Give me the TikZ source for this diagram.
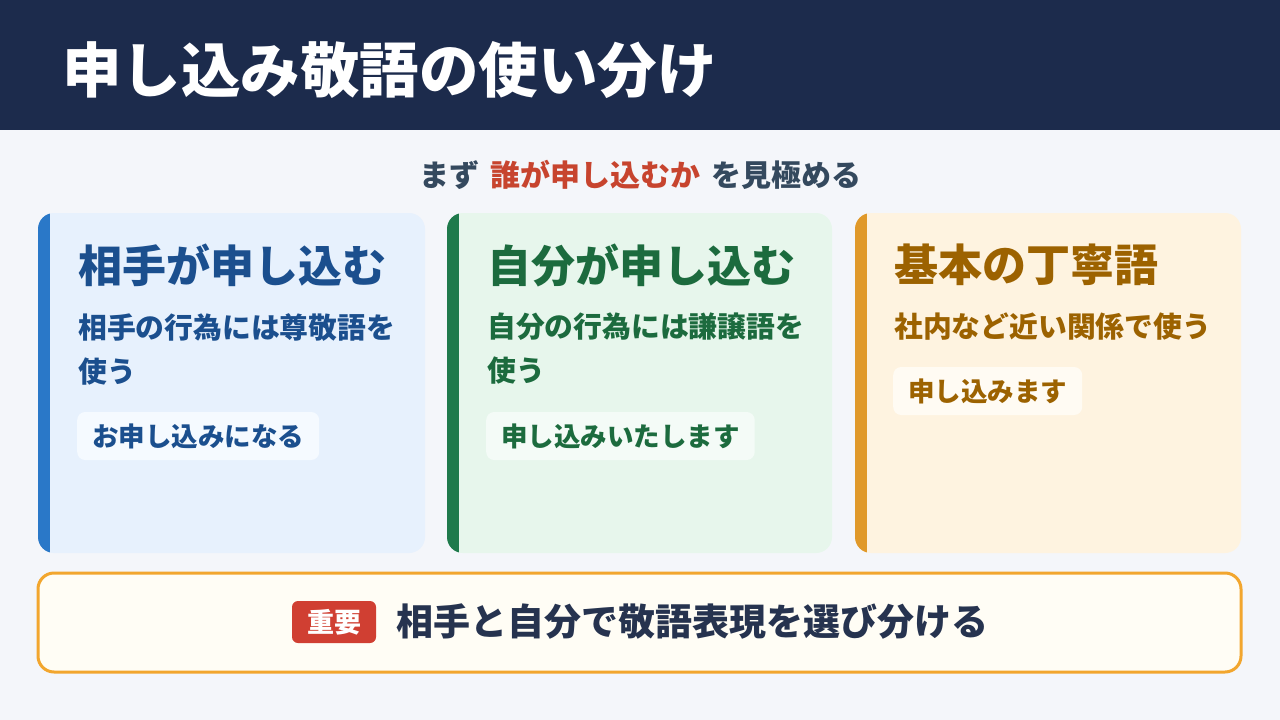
\documentclass[tikz,border=0pt]{standalone}
\usepackage{fontspec}
\setmainfont{Noto Sans CJK JP}
\usetikzlibrary{positioning}

% --- Colours ---
\definecolor{headnavy}{HTML}{1C2B4C}
\definecolor{pagebg}{HTML}{F4F6FA}
\definecolor{slate}{HTML}{34495E}
\definecolor{keyred}{HTML}{C7442E}
\definecolor{blueacc}{HTML}{2A78C8}
\definecolor{bluefill}{HTML}{E7F1FD}
\definecolor{bluetag}{HTML}{F5FAFF}
\definecolor{bluetext}{HTML}{1B4F8E}
\definecolor{greenacc}{HTML}{1F7A4C}
\definecolor{greenfill}{HTML}{E7F6EC}
\definecolor{greentag}{HTML}{F4FBF7}
\definecolor{greentext}{HTML}{1C6B3E}
\definecolor{orangeacc}{HTML}{E0992A}
\definecolor{orangefill}{HTML}{FEF3E0}
\definecolor{orangetag}{HTML}{FFFBF3}
\definecolor{browntext}{HTML}{9C6200}
\definecolor{noteline}{HTML}{F2A62E}
\definecolor{notefill}{HTML}{FFFDF5}
\definecolor{badgered}{HTML}{D03F32}
\definecolor{notetext}{HTML}{26334F}

\tikzset{
  cardtitle/.style={anchor=west, inner sep=0pt, font=\bfseries\fontsize{44}{50}\selectfont},
  cardbody/.style={anchor=north west, inner sep=0pt, align=left, font=\bfseries\fontsize{28.8}{44}\selectfont},
  cardtag/.style={anchor=west, inner xsep=15pt, inner ysep=0pt, minimum height=48pt,
    rounded corners=8pt, font=\bfseries\fontsize{26.5}{30}\selectfont},
}

\begin{document}
\begin{tikzpicture}[x=1pt, y=-1pt]

    % --- Page and header ---
    \useasboundingbox (0,0) rectangle (1280,720);
    \fill[pagebg] (0,0) rectangle (1280,720);
    \fill[headnavy] (0,0) rectangle (1280,130);
    \node[anchor=west, inner sep=0pt, text=white, font=\bfseries\fontsize{59.5}{64}\selectfont]
        (title) at (62,70) {申し込み敬語の使い分け};

    % --- Lead line ---
    \node[font=\bfseries\fontsize{30}{34}\selectfont, text=slate] (lead) at (640,175)
        {まず\hspace{11pt}{\color{keyred}誰が申し込むか}\hspace{11pt}を見極める};

    % --- Cards: fill, then the left accent strip clipped to the rounded card ---
    \foreach \xa/\xb/\acc/\bg in {38/425/blueacc/bluefill, 447/832/greenacc/greenfill, 855/1241/orangeacc/orangefill}{
        \fill[\bg, rounded corners=16pt] (\xa,213) rectangle (\xb,553);
        \begin{scope}
            \clip[rounded corners=16pt] (\xa,213) rectangle (\xb,553);
            \fill[\acc] (\xa,213) rectangle (\xa+12,553);
        \end{scope}
    }

    % Card 1 (honorific)
    \node[cardtitle, text=bluetext] (other) at (78,265) {相手が申し込む};
    \node[cardbody, text=bluetext] (otherbody) at (78,313) {相手の行為には尊敬語を\\使う};
    \node[cardtag, fill=bluetag, text=bluetext] (othertag) at (77,436) {お申し込みになる};

    % Card 2 (humble)
    \node[cardtitle, text=greentext] (self) at (487,265) {自分が申し込む};
    \node[cardbody, text=greentext] (selfbody) at (487,313) {自分の行為には謙譲語を\\使う};
    \node[cardtag, fill=greentag, text=greentext] (selftag) at (486,436) {申し込みいたします};

    % Card 3 (polite)
    \node[cardtitle, text=browntext] (basic) at (894,265) {基本の丁寧語};
    \node[cardbody, text=browntext] (basicbody) at (894,313) {社内など近い関係で使う};
    \node[cardtag, fill=orangetag, text=browntext] (basictag) at (893,391) {申し込みます};

    % --- Bottom note ---
    \filldraw[draw=noteline, fill=notefill, line width=3pt, rounded corners=16pt]
        (38,573) rectangle (1241,672);
    \node[fill=badgered, text=white, rounded corners=6pt, minimum width=84pt, minimum height=42pt,
        inner sep=0pt, font=\bfseries\fontsize{27}{30}\selectfont] (badge) at (334,622) {重要};
    \node[right=20pt of badge, inner sep=0pt, text=notetext, font=\bfseries\fontsize{37}{42}\selectfont]
        (note) {相手と自分で敬語表現を選び分ける};

\end{tikzpicture}
\end{document}
